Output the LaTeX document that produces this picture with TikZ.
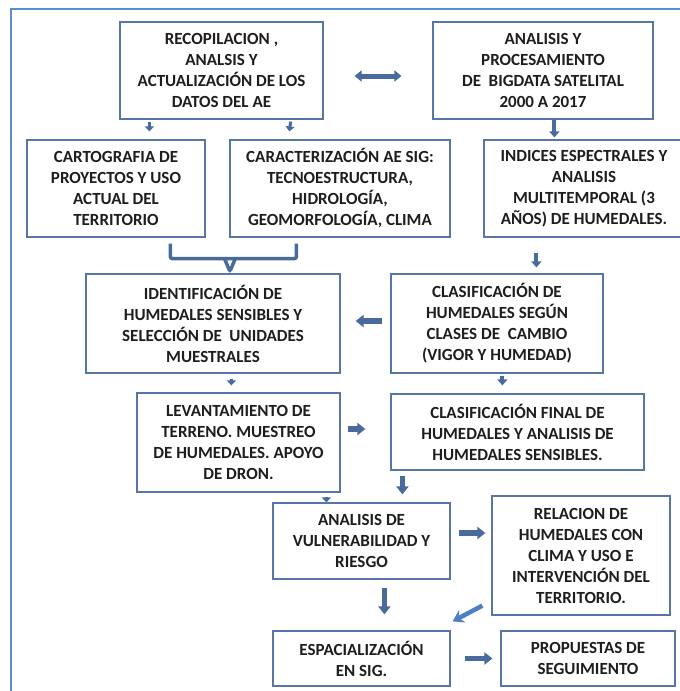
\documentclass[tikz,border=0pt]{standalone}
\usepackage{fontspec}
\setmainfont{Carlito}
\usetikzlibrary{arrows.meta,calc}
\definecolor{boxline}{RGB}{88,118,165}
\definecolor{arr}{RGB}{72,106,156}
\definecolor{framec}{RGB}{92,142,210}
\definecolor{diag}{RGB}{78,126,196}
\definecolor{txt}{RGB}{30,30,30}
\tikzset{
  box/.style={draw=boxline, line width=1.2pt, fill=white, align=center, inner sep=0pt,
    text=txt, font=\bfseries\fontsize{17}{21}\selectfont},
  smallarr/.style={draw=arr, line width=3pt, -{Triangle[length=5pt,width=9pt]}},
  medarr/.style={draw=arr, line width=4pt, -{Triangle[length=6pt,width=10pt]}},
  bigarr/.style={draw=arr, line width=5.5pt, -{Triangle[length=8pt,width=12pt]}},
  dblarr/.style={draw=arr, line width=5pt, {Triangle[length=7pt,width=11pt]}-{Triangle[length=7pt,width=11pt]}},
  diagarr/.style={draw=diag, line width=4.5pt, -{Stealth[length=11pt,width=14pt,inset=4pt]}},
  brk/.style={draw=arr, line width=3.5pt, rounded corners=2pt}
}
\begin{document}
\begin{tikzpicture}[x=1pt,y=-1pt]
\useasboundingbox (0,0) rectangle (680,691);
\clip (0,0) rectangle (680,691);
\draw[framec, line width=2.5pt] (11,9) rectangle (720,730);

\node[box, minimum width=203pt, minimum height=97pt] (B1) at (221.5,70.5)
  {RECOPILACION ,\\ANALSIS Y\\ACTUALIZACIÓN DE LOS\\DATOS DEL AE};
\node[box, minimum width=220pt, minimum height=97pt] (B2) at (543,70.5)
  {ANALISIS Y\\PROCESAMIENTO\\DE\ \ BIGDATA SATELITAL\\2000 A 2017};
\node[box, minimum width=178pt, minimum height=97pt] (B3) at (116,188.5)
  {CARTOGRAFIA DE\\PROYECTOS Y USO\\ACTUAL DEL\\TERRITORIO};
\node[box, minimum width=220pt, minimum height=97pt] (B4) at (340,188.5)
  {CARACTERIZACIÓN AE SIG:\\TECNOESTRUCTURA,\\HIDROLOGÍA,\\GEOMORFOLOGÍA, CLIMA};
\node[box, minimum width=200pt, minimum height=97pt] (B5) at (584,188.5)
  {INDICES ESPECTRALES Y\\ANALISIS\\MULTITEMPORAL (3\\AÑOS) DE HUMEDALES.};
\node[box, minimum width=254pt, minimum height=99pt] (B6) at (213,323.5)
  {IDENTIFICACIÓN DE\\HUMEDALES SENSIBLES Y\\SELECCIÓN DE\ \ UNIDADES\\MUESTRALES};
\node[box, minimum width=212pt, minimum height=99pt] (B7) at (497,323.5)
  {CLASIFICACIÓN DE\\HUMEDALES SEGÚN\\CLASES DE\ \ CAMBIO\\(VIGOR Y HUMEDAD)};
\node[box, minimum width=203pt, minimum height=99pt] (B8) at (238.5,442.5)
  {LEVANTAMIENTO DE\\TERRENO. MUESTREO\\DE HUMEDALES. APOYO\\DE DRON.};
\node[box, minimum width=253pt, minimum height=76pt] (B9) at (517.5,432)
  {CLASIFICACIÓN FINAL DE\\HUMEDALES Y ANALISIS DE\\HUMEDALES SENSIBLES.};
\node[box, minimum width=177pt, minimum height=76pt] (B10) at (361.5,541)
  {ANALISIS DE\\VULNERABILIDAD Y\\RIESGO};
\node[box, minimum width=178pt, minimum height=119pt] (B11) at (581,555.5)
  {RELACION DE\\HUMEDALES CON\\CLIMA Y USO E\\INTERVENCIÓN DEL\\TERRITORIO.};
\node[box, minimum width=177pt, minimum height=55pt] (B12) at (361.5,658.5)
  {ESPACIALIZACIÓN\\EN SIG.};
\node[box, minimum width=174pt, minimum height=55pt] (B13) at (588,658.5)
  {PROPUESTAS DE\\SEGUIMIENTO};

% connectors
\draw[dblarr] ($(B1.east)+(31,5.5)$) -- ($(B2.west)+(-31,5.5)$);
\draw[smallarr] ($(B1.south west)+(30,2)$) -- ($(B3.north west)+(123,-8)$);
\draw[smallarr] ($(B1.south east)+(-33,2)$) -- ($(B4.north west)+(60,-8)$);
\draw[medarr] ($(B2.south west)+(122,0)$) -- ($(B5.north west)+(71,-2)$);
\draw[medarr] ($(B5.south west)+(53,15)$) -- ($(B7.north west)+(146,-6)$);
\draw[bigarr] ($(B7.west)+(-8,-2.5)$) -- ($(B6.east)+(15,-2.5)$);
\draw[smallarr] ($(B6.south west)+(146,5)$) -- ($(B8.north west)+(95,-7)$);
\draw[bigarr] ($(B8.east)+(7,-13.5)$) -- ($(B9.west)+(-25,-3)$);
\draw[medarr] ($(B7.south west)+(112,2)$) -- ($(B9.north west)+(112,-8)$);
\draw[bigarr] ($(B9.south west)+(12,5)$) -- ($(B10.north west)+(130,-8)$);
\draw[smallarr] ($(B8.south west)+(190,4)$) -- ($(B10.north west)+(54,0)$);
\draw[bigarr] ($(B10.east)+(8,-8)$) -- ($(B11.west)+(-6,-22.5)$);
\draw[bigarr] ($(B10.south west)+(112,8)$) -- ($(B12.north west)+(112,-16)$);
\draw[diagarr] ($(B11.south west)+(-9,-10)$) -- ($(B12.north east)+(2,-9)$);
\draw[bigarr] ($(B12.east)+(14,0)$) -- ($(B13.west)+(-8,0)$);

% bracket
\draw[brk] ($(B3.south west)+(144,6)$) -- ($(B3.south west)+(144,21)$)
  -- ($(B4.south west)+(67,21)$) -- ($(B4.south west)+(67,6)$);
\draw[brk] ($(B6.north west)+(139,-15)$) -- ($(B6.north west)+(144.5,-2)$)
  -- ($(B6.north west)+(150,-15)$);
\end{tikzpicture}
\end{document}
